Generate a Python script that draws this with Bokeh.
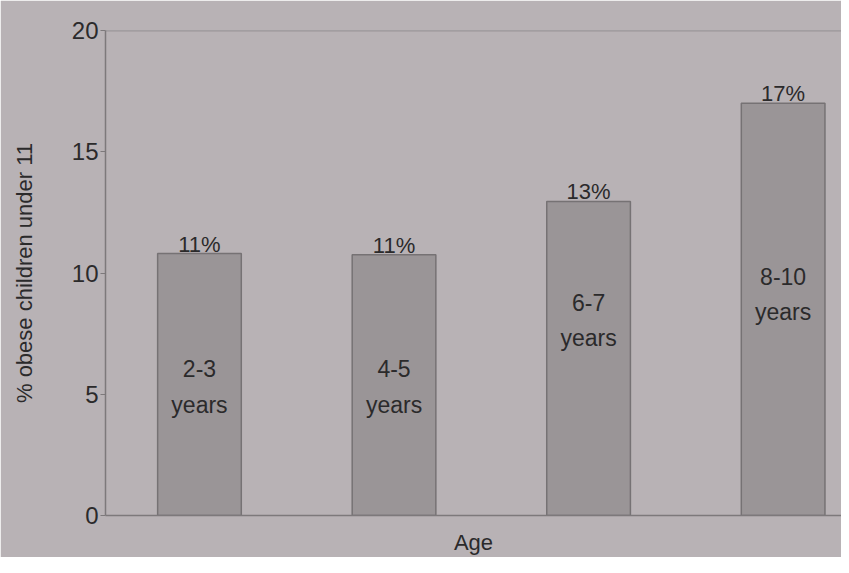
from bokeh.plotting import figure
from bokeh.models import Range1d, Span, FixedTicker, ColumnDataSource
from bokeh.core.properties import value
from bokeh.embed import file_html
from bokeh.resources import INLINE

# ---- data ----
categories = ["2-3\nyears", "4-5\nyears", "6-7\nyears", "8-10\nyears"]
percent = [10.8, 10.75, 12.95, 17.0]
value_labels = ["11%", "11%", "13%", "17%"]
y_ticks = [0, 5, 10, 15, 20]

# ---- layout ----
xs = list(range(len(categories)))
inner_label_y = [5.3, 5.3, 8.05, 9.1]
BG = "#b8b2b5"
BAR = "#9a9597"
EDGE = "#767274"
AXC = "#7d797b"
TXT = "#2b2a2b"
FONT = "Liberation Sans"

p = figure(width=841, height=557, output_backend="svg", toolbar_location=None,
           x_range=Range1d(-0.483, 3.30), y_range=Range1d(0, 20),
           min_border_left=105, min_border_right=0, min_border_top=30, min_border_bottom=38)
p.background_fill_color = BG
p.border_fill_color = BG
p.outline_line_color = None
p.grid.visible = False

src = ColumnDataSource(dict(x=xs, top=percent, lab=value_labels, cat=categories, iy=inner_label_y))
p.vbar(x="x", top="top", width=0.43, bottom=0, source=src,
       fill_color=BAR, line_color=EDGE, line_width=1.5)
p.text(x="x", y="top", text="lab", source=src, text_align="center", text_baseline="bottom",
       text_font=value(FONT), text_font_size="22px", text_color=TXT, y_offset=3)
p.text(x="x", y="iy", text="cat", source=src, text_align="center", text_baseline="middle",
       text_font=value(FONT), text_font_size="23px", text_color=TXT, text_line_height=1.35)

p.add_layout(Span(location=20, dimension="width", line_color=AXC, line_width=1.5))

ya = p.yaxis[0]
ya.ticker = FixedTicker(ticks=y_ticks)
ya.axis_label = "% obese children under 11"
ya.axis_label_text_font = FONT
ya.axis_label_text_font_style = "normal"
ya.axis_label_text_font_size = "22px"
ya.axis_label_text_color = TXT
ya.axis_label_standoff = 32
ya.major_label_text_font = FONT
ya.major_label_text_font_size = "24px"
ya.major_label_text_color = TXT
ya.major_label_standoff = 2
ya.axis_line_color = AXC
ya.axis_line_width = 1.5
ya.major_tick_line_color = AXC
ya.major_tick_in = 0
ya.major_tick_out = 5
ya.minor_tick_line_color = None

xa = p.xaxis[0]
xa.ticker = FixedTicker(ticks=[])
xa.axis_label = "Age"
xa.axis_label_text_font = FONT
xa.axis_label_text_font_style = "normal"
xa.axis_label_text_font_size = "22px"
xa.axis_label_text_color = TXT
xa.axis_label_standoff = 14
xa.axis_line_color = AXC
xa.axis_line_width = 1.5
xa.major_label_text_font_size = "0px"
xa.major_label_standoff = 0
xa.major_tick_line_color = None
xa.minor_tick_line_color = None

open("out.html", "w").write(file_html(p, INLINE))
